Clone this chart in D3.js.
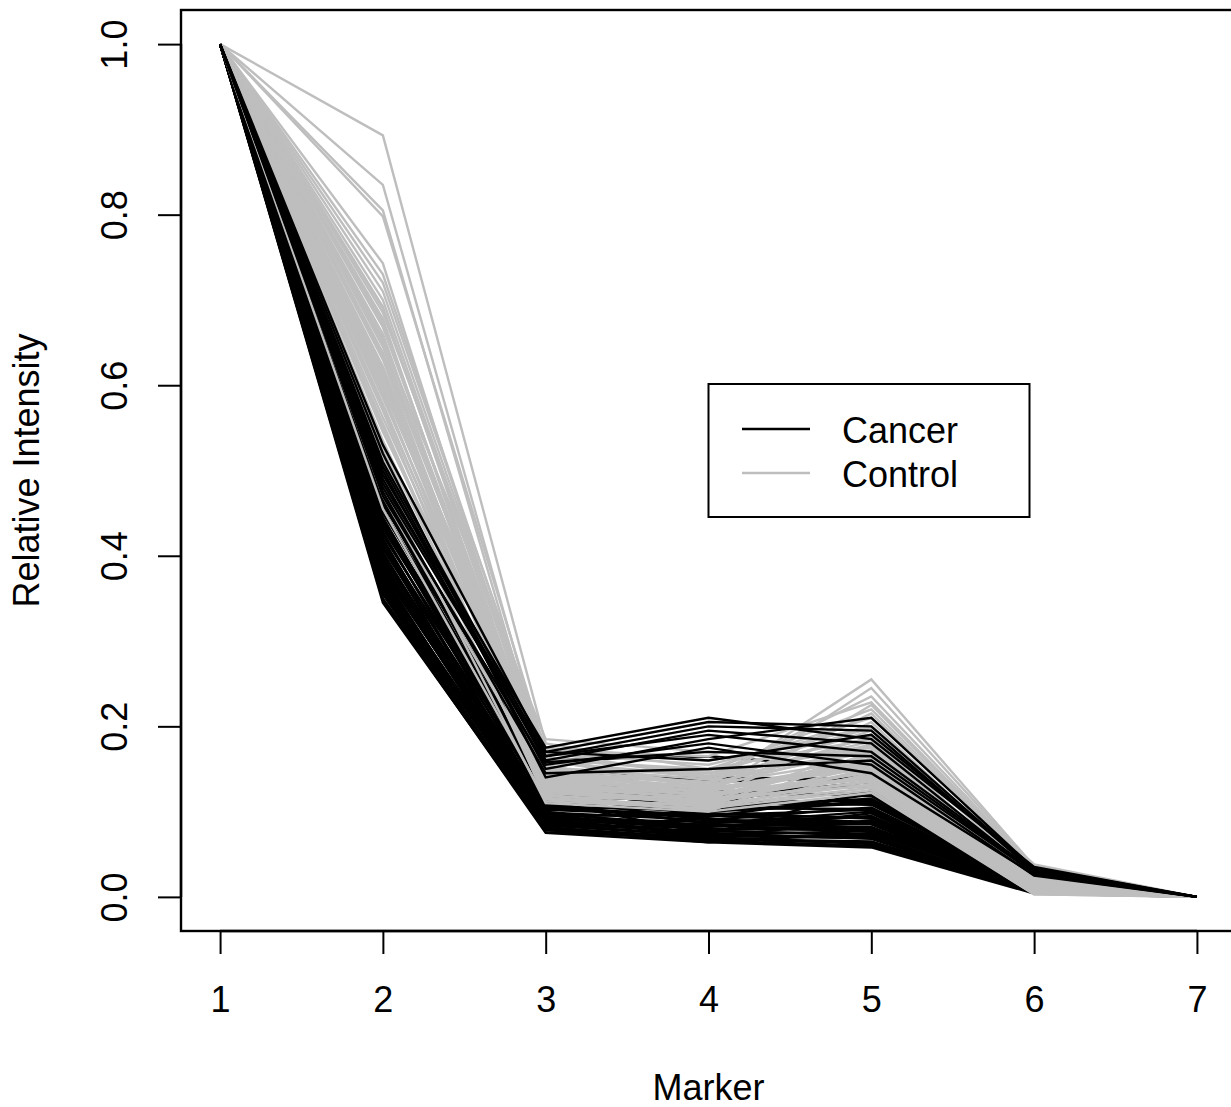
<!DOCTYPE html>
<html>
<head>
<meta charset="utf-8">
<title>Relative Intensity by Marker</title>
<script src="https://cdn.jsdelivr.net/npm/d3@7"></script>
<style>
  body { margin: 0; background: #fff; }
  svg { display: block; font-family: "Liberation Sans", Arial, Helvetica, sans-serif; }
</style>
</head>
<body>
<div id="chart"></div>
<script>
// markers on the x axis
const markers = [1, 2, 3, 4, 5, 6, 7];

// tick labels
const xTicks = [1, 2, 3, 4, 5, 6, 7];
const yTicks = [0, 0.2, 0.4, 0.6, 0.8, 1.0];

// legend entries
const groups = ["Cancer", "Control"];

// cancer profiles, one row per sample (values at markers 1..7)
const cancer = [
  [1, 0.345, 0.078, 0.070, 0.062, 0.006, 0],
  [1, 0.348, 0.075, 0.064, 0.058, 0.004, 0],
  [1, 0.350, 0.082, 0.066, 0.060, 0.005, 0],
  [1, 0.355, 0.076, 0.068, 0.065, 0.008, 0],
  [1, 0.358, 0.079, 0.067, 0.064, 0.005, 0],
  [1, 0.360, 0.085, 0.072, 0.070, 0.007, 0],
  [1, 0.362, 0.090, 0.075, 0.068, 0.006, 0],
  [1, 0.365, 0.084, 0.071, 0.069, 0.006, 0],
  [1, 0.368, 0.080, 0.064, 0.075, 0.009, 0],
  [1, 0.370, 0.086, 0.077, 0.073, 0.006, 0],
  [1, 0.372, 0.095, 0.080, 0.078, 0.007, 0],
  [1, 0.375, 0.088, 0.085, 0.082, 0.010, 0],
  [1, 0.378, 0.081, 0.069, 0.063, 0.005, 0],
  [1, 0.380, 0.100, 0.078, 0.072, 0.006, 0],
  [1, 0.383, 0.092, 0.088, 0.085, 0.008, 0],
  [1, 0.385, 0.091, 0.083, 0.079, 0.007, 0],
  [1, 0.386, 0.098, 0.070, 0.090, 0.011, 0],
  [1, 0.388, 0.106, 0.101, 0.112, 0.013, 0],
  [1, 0.390, 0.105, 0.092, 0.080, 0.007, 0],
  [1, 0.393, 0.083, 0.082, 0.095, 0.012, 0],
  [1, 0.396, 0.102, 0.095, 0.088, 0.009, 0],
  [1, 0.398, 0.089, 0.073, 0.077, 0.008, 0],
  [1, 0.400, 0.110, 0.086, 0.100, 0.010, 0],
  [1, 0.402, 0.099, 0.090, 0.087, 0.009, 0],
  [1, 0.404, 0.094, 0.098, 0.092, 0.008, 0],
  [1, 0.408, 0.115, 0.090, 0.105, 0.013, 0],
  [1, 0.412, 0.087, 0.076, 0.098, 0.009, 0],
  [1, 0.414, 0.103, 0.097, 0.093, 0.010, 0],
  [1, 0.416, 0.120, 0.100, 0.110, 0.012, 0],
  [1, 0.418, 0.093, 0.079, 0.081, 0.007, 0],
  [1, 0.420, 0.097, 0.084, 0.086, 0.007, 0],
  [1, 0.424, 0.125, 0.105, 0.115, 0.015, 0],
  [1, 0.426, 0.113, 0.104, 0.103, 0.011, 0],
  [1, 0.428, 0.104, 0.094, 0.120, 0.011, 0],
  [1, 0.432, 0.130, 0.110, 0.108, 0.014, 0],
  [1, 0.436, 0.112, 0.074, 0.125, 0.010, 0],
  [1, 0.438, 0.119, 0.111, 0.113, 0.013, 0],
  [1, 0.440, 0.140, 0.120, 0.130, 0.018, 0],
  [1, 0.442, 0.108, 0.087, 0.094, 0.010, 0],
  [1, 0.445, 0.118, 0.096, 0.102, 0.009, 0],
  [1, 0.450, 0.150, 0.135, 0.140, 0.020, 0],
  [1, 0.452, 0.127, 0.118, 0.122, 0.015, 0],
  [1, 0.455, 0.122, 0.108, 0.145, 0.016, 0],
  [1, 0.460, 0.160, 0.165, 0.150, 0.022, 0],
  [1, 0.462, 0.128, 0.115, 0.135, 0.019, 0],
  [1, 0.465, 0.135, 0.125, 0.118, 0.012, 0],
  [1, 0.468, 0.138, 0.140, 0.138, 0.021, 0],
  [1, 0.470, 0.155, 0.180, 0.155, 0.025, 0],
  [1, 0.475, 0.145, 0.150, 0.160, 0.028, 0],
  [1, 0.480, 0.165, 0.190, 0.170, 0.030, 0],
  [1, 0.485, 0.170, 0.205, 0.200, 0.032, 0],
  [1, 0.490, 0.160, 0.195, 0.180, 0.028, 0],
  [1, 0.495, 0.175, 0.210, 0.185, 0.035, 0],
  [1, 0.500, 0.150, 0.185, 0.210, 0.033, 0],
  [1, 0.505, 0.158, 0.170, 0.165, 0.029, 0],
  [1, 0.510, 0.165, 0.200, 0.195, 0.030, 0],
  [1, 0.520, 0.140, 0.175, 0.145, 0.026, 0],
  [1, 0.530, 0.170, 0.160, 0.190, 0.034, 0]
];

// control profiles
const control = [
  [1, 0.893, 0.180, 0.150, 0.210, 0.038, 0],
  [1, 0.835, 0.160, 0.130, 0.255, 0.036, 0],
  [1, 0.805, 0.150, 0.120, 0.245, 0.035, 0],
  [1, 0.798, 0.170, 0.140, 0.235, 0.034, 0],
  [1, 0.743, 0.140, 0.110, 0.225, 0.032, 0],
  [1, 0.730, 0.165, 0.125, 0.215, 0.030, 0],
  [1, 0.720, 0.172, 0.165, 0.228, 0.033, 0],
  [1, 0.710, 0.162, 0.148, 0.220, 0.031, 0],
  [1, 0.700, 0.155, 0.115, 0.205, 0.028, 0],
  [1, 0.692, 0.145, 0.135, 0.195, 0.025, 0],
  [1, 0.690, 0.158, 0.140, 0.182, 0.023, 0],
  [1, 0.685, 0.175, 0.160, 0.190, 0.030, 0],
  [1, 0.678, 0.126, 0.112, 0.168, 0.017, 0],
  [1, 0.675, 0.130, 0.105, 0.180, 0.022, 0],
  [1, 0.672, 0.144, 0.128, 0.176, 0.019, 0],
  [1, 0.668, 0.150, 0.145, 0.175, 0.020, 0],
  [1, 0.660, 0.120, 0.100, 0.170, 0.018, 0],
  [1, 0.655, 0.140, 0.130, 0.188, 0.021, 0],
  [1, 0.652, 0.185, 0.170, 0.165, 0.026, 0],
  [1, 0.648, 0.130, 0.116, 0.166, 0.016, 0],
  [1, 0.645, 0.135, 0.118, 0.160, 0.015, 0],
  [1, 0.638, 0.160, 0.150, 0.185, 0.024, 0],
  [1, 0.634, 0.150, 0.134, 0.170, 0.018, 0],
  [1, 0.630, 0.125, 0.108, 0.155, 0.012, 0],
  [1, 0.622, 0.142, 0.128, 0.150, 0.010, 0],
  [1, 0.618, 0.134, 0.119, 0.157, 0.011, 0],
  [1, 0.615, 0.115, 0.102, 0.145, 0.008, 0],
  [1, 0.612, 0.122, 0.110, 0.150, 0.009, 0],
  [1, 0.608, 0.168, 0.155, 0.200, 0.029, 0],
  [1, 0.604, 0.144, 0.126, 0.160, 0.013, 0],
  [1, 0.600, 0.138, 0.122, 0.140, 0.006, 0],
  [1, 0.596, 0.163, 0.145, 0.198, 0.027, 0],
  [1, 0.592, 0.118, 0.112, 0.135, 0.005, 0],
  [1, 0.588, 0.130, 0.120, 0.146, 0.008, 0],
  [1, 0.585, 0.152, 0.138, 0.172, 0.016, 0],
  [1, 0.578, 0.128, 0.116, 0.130, 0.004, 0],
  [1, 0.574, 0.140, 0.124, 0.154, 0.010, 0],
  [1, 0.570, 0.112, 0.104, 0.125, 0.003, 0],
  [1, 0.562, 0.146, 0.132, 0.162, 0.014, 0],
  [1, 0.555, 0.122, 0.110, 0.148, 0.006, 0],
  [1, 0.550, 0.126, 0.112, 0.136, 0.006, 0],
  [1, 0.545, 0.158, 0.142, 0.178, 0.020, 0],
  [1, 0.535, 0.132, 0.120, 0.138, 0.005, 0],
  [1, 0.530, 0.140, 0.118, 0.146, 0.008, 0],
  [1, 0.525, 0.116, 0.106, 0.128, 0.004, 0],
  [1, 0.515, 0.148, 0.126, 0.158, 0.012, 0],
  [1, 0.500, 0.124, 0.114, 0.142, 0.007, 0],
  [1, 0.485, 0.110, 0.100, 0.122, 0.003, 0],
  [1, 0.470, 0.136, 0.124, 0.152, 0.009, 0],
  [1, 0.455, 0.114, 0.108, 0.132, 0.005, 0]
];

(function(){
  "use strict";

  const width = 1231;
  const height = 1107;
  const fontSize = 36;
  const colors = {Cancer: "#000000", Control: "#bebebe"};

  // plot region, R style: domain padded 4% each side
  const left = 181, top = 10, bottom = 931;
  const x = d3.scaleLinear().domain([0.76, 7.24]).range([left, 1236]);
  const y = d3.scaleLinear().domain([-0.04, 1.04]).range([bottom, top]);

  const svg = d3.select("#chart")
                .append("svg")
                .attr("width", width)
                .attr("height", height);

  // drawing order: most cancer rows, then controls, then the
  // last few (highest) cancer rows so they show through the grey
  const tag = (group) => (values) => ({group, values});
  const cut = 47;
  const samples = [].concat(
    cancer.slice(0, cut).map(tag("Cancer")),
    control.map(tag("Control")),
    cancer.slice(cut).map(tag("Cancer"))
  );

  const line = d3.line()
                 .x((d, i) => x(markers[i]))
                 .y(d => y(d));

  svg.append("g")
     .selectAll("path")
     .data(samples)
     .enter().append("path")
             .attr("d", d => line(d.values))
             .attr("fill", "none")
             .attr("stroke", d => colors[d.group])
             .attr("stroke-width", 2.4)
             .attr("stroke-linejoin", "miter");

  // plot frame
  svg.append("rect")
     .attr("x", left)
     .attr("y", top)
     .attr("width", x.range()[1] - left)
     .attr("height", bottom - top)
     .attr("fill", "none")
     .attr("stroke", "#000")
     .attr("stroke-width", 2.4);

  // x axis: line spans first to last tick only
  const xAxis = svg.append("g")
                   .attr("transform", `translate(0,${bottom})`)
                   .call(d3.axisBottom(x).tickValues(xTicks).tickSize(23).tickPadding(0).tickFormat(d3.format("d")));
  xAxis.select(".domain").attr("d", `M${x(1)},0H${x(7)}`).attr("stroke-width", 2.4);
  xAxis.selectAll(".tick line").attr("stroke-width", 2);
  xAxis.selectAll(".tick text")
       .attr("y", 81)
       .attr("dy", null)
       .attr("font-size", fontSize)
       .attr("font-family", null)
       .attr("fill", "#000");

  // y axis with rotated labels
  const yAxis = svg.append("g")
                   .attr("transform", `translate(${left},0)`)
                   .call(d3.axisLeft(y).tickValues(yTicks).tickSize(23).tickFormat(d3.format(".1f")));
  yAxis.select(".domain").attr("d", `M0,${y(0)}V${y(1)}`).attr("stroke-width", 2.4);
  yAxis.selectAll(".tick line").attr("stroke-width", 2);
  yAxis.selectAll(".tick text")
       .attr("x", null)
       .attr("dy", null)
       .attr("transform", "translate(-54,0) rotate(-90)")
       .attr("text-anchor", "middle")
       .attr("font-size", fontSize)
       .attr("font-family", null)
       .attr("fill", "#000");

  // axis titles
  svg.append("text")
     .text("Marker")
     .attr("x", (x(1) + x(7)) / 2)
     .attr("y", 1100)
     .attr("text-anchor", "middle")
     .attr("font-size", fontSize);

  svg.append("text")
     .text("Relative Intensity")
     .attr("transform", `translate(39,${(top + bottom) / 2}) rotate(-90)`)
     .attr("text-anchor", "middle")
     .attr("font-size", fontSize);

  // legend box
  const legend = svg.append("g");
  legend.append("rect")
        .attr("x", 708.5)
        .attr("y", 384)
        .attr("width", 321)
        .attr("height", 133)
        .attr("fill", "#fff")
        .attr("stroke", "#000")
        .attr("stroke-width", 2);

  const items = legend.selectAll("g.item")
                      .data(groups)
                      .enter().append("g")
                              .attr("class", "item")
                              .attr("transform", (d, i) => `translate(0,${429 + i * 44})`);
  items.append("line")
       .attr("x1", 742).attr("x2", 810)
       .attr("stroke", d => colors[d])
       .attr("stroke-width", 2.4);
  items.append("text")
       .text(d => d)
       .attr("x", 842)
       .attr("y", 14)
       .attr("font-size", fontSize);
})();
</script>
</body>
</html>
